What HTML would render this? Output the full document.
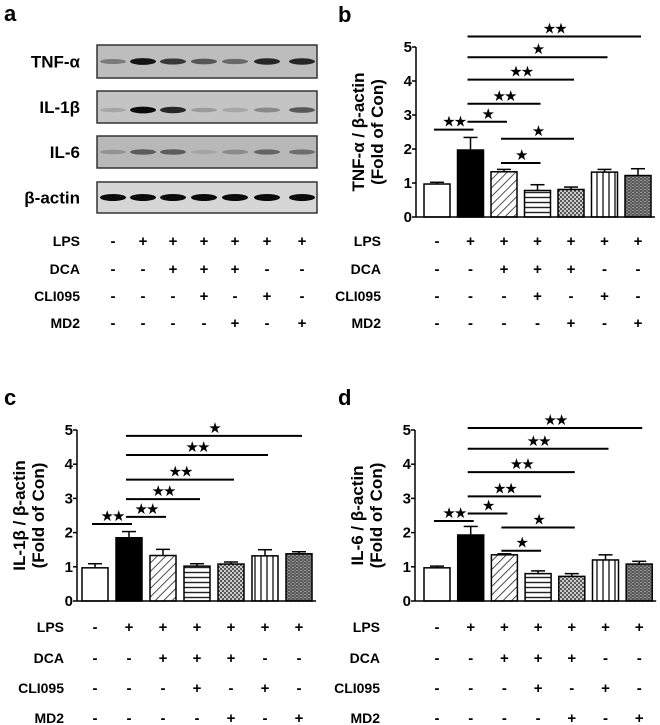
<!DOCTYPE html>
<html><head><meta charset="utf-8">
<style>
body{margin:0;background:#fff;}
svg{display:block;font-family:"Liberation Sans",Arial,sans-serif;font-weight:bold;}
</style></head>
<body>
<svg id="fig" width="660" height="725" viewBox="0 0 660 725" xmlns="http://www.w3.org/2000/svg">
<defs>
<pattern id="pDiag" width="6" height="6" patternUnits="userSpaceOnUse" patternTransform="rotate(45)"><rect width="6" height="6" fill="#fff"/><line x1="0" y1="0" x2="0" y2="6" stroke="#222" stroke-width="1.6"/></pattern>
<pattern id="pHor" width="6" height="5" patternUnits="userSpaceOnUse"><rect width="6" height="5" fill="#fff"/><line x1="0" y1="2.5" x2="6" y2="2.5" stroke="#222" stroke-width="1.4"/></pattern>
<pattern id="pDot" width="4" height="4" patternUnits="userSpaceOnUse"><rect width="4" height="4" fill="#ccc"/><circle cx="1" cy="1" r="1" fill="#333"/><circle cx="3" cy="3" r="1" fill="#333"/></pattern>
<pattern id="pVer" width="6" height="6" patternUnits="userSpaceOnUse"><rect width="6" height="6" fill="#fff"/><line x1="3" y1="0" x2="3" y2="6" stroke="#222" stroke-width="1.4"/></pattern>
<pattern id="pBrick" width="4" height="3" patternUnits="userSpaceOnUse"><rect width="4" height="3" fill="#555"/><rect x="0" y="0" width="2" height="1" fill="#999"/><rect x="2" y="1.5" width="2" height="1" fill="#999"/></pattern>
</defs>
<g id="root"></g>
</svg>
<script>
// ---- data ----
const groups = ["Con","LPS","LPS+DCA","LPS+DCA+CLI095","LPS+DCA+MD2","LPS+CLI095","LPS+MD2"];
const treatRows = ["LPS","DCA","CLI095","MD2"];
const treatLPS = ["-","+","+","+","+","+","+"];
const treatDCA = ["-","-","+","+","+","-","-"];
const treatCLI = ["-","-","-","+","-","+","-"];
const treatMD2 = ["-","-","-","-","+","-","+"];
const yTicks = [0,1,2,3,4,5];
const tnfMean = [0.97,1.97,1.33,0.78,0.81,1.32,1.22];
const tnfErr  = [0.05,0.37,0.07,0.17,0.07,0.08,0.20];
const il1Mean = [0.97,1.85,1.33,1.02,1.08,1.32,1.38];
const il1Err  = [0.12,0.18,0.18,0.07,0.06,0.18,0.06];
const il6Mean = [0.97,1.93,1.35,0.80,0.72,1.20,1.08];
const il6Err  = [0.05,0.25,0.03,0.08,0.08,0.15,0.08];
// significance brackets: [fromGroup, toGroup, level, stars]
const tnfSig = [[1,6,5.31,"★★"],[1,5,4.70,"★"],[1,4,4.04,"★★"],[1,3,3.33,"★★"],[1,2,2.80,"★"],[0,1,2.57,"★★"],[2,4,2.30,"★"],[2,3,1.59,"★"]];
const il1Sig = [[1,6,4.83,"★"],[1,5,4.27,"★★"],[1,4,3.55,"★★"],[1,3,2.98,"★★"],[1,2,2.46,"★★"],[0,1,2.25,"★★"]];
const il6Sig = [[1,6,5.06,"★★"],[1,5,4.45,"★★"],[1,4,3.77,"★★"],[1,3,3.06,"★★"],[1,2,2.56,"★"],[0,1,2.34,"★★"],[2,4,2.15,"★"],[2,3,1.47,"★"]];
const blotNames = ["TNF-α","IL-1β","IL-6","β-actin"];
const blotTNF = [0.35,0.9,0.7,0.55,0.45,0.8,0.8];
const blotIL1 = [0.15,0.95,0.8,0.2,0.15,0.3,0.55];
const blotIL6 = [0.2,0.5,0.5,0.1,0.25,0.45,0.4];
const blotACT = [0.95,0.95,0.95,0.95,0.95,0.95,0.95];

const NS="http://www.w3.org/2000/svg";
const root=document.getElementById('root');
function mk(tag,attrs,parent,text){const e=document.createElementNS(NS,tag);for(const k in attrs)e.setAttribute(k,attrs[k]);if(text!==undefined)e.textContent=text;(parent||root).appendChild(e);return e;}
const fills=["#fff","#000","url(#pDiag)","url(#pHor)","url(#pDot)","url(#pVer)","url(#pBrick)"];
const treatVals=[treatLPS,treatDCA,treatCLI,treatMD2];

function treatTable(g,labelRight,cols,rowsY,pfx){
  treatRows.forEach((r,ri)=>{
    const t=mk('text',{x:labelRight,y:rowsY[ri]+5,'text-anchor':'end','font-size':14},g,r);
    
    
    treatVals[ri].forEach((v,ci)=>{
      const s=mk('text',{x:cols[ci],y:rowsY[ri]+5,'text-anchor':'middle','font-size':15},g,v);
      
      
    });
  });
}

function chart(opt){
  const g=mk('g',{});
  
  
  const ax=opt.ax,y0=opt.y0,y5=opt.y5,x0=opt.x0,step=opt.step,bw=26;
  const ys=v=>y0-(y0-y5)*v/5;
  const xs=i=>x0+i*step;
  opt.mean.forEach((m,i)=>{
    const e=opt.err[i],cx=xs(i);
    const el=mk('line',{x1:cx,x2:cx,y1:ys(m),y2:ys(m+e),stroke:'#000','stroke-width':1.5},g);
    
    
    const ec=mk('line',{x1:cx-7,x2:cx+7,y1:ys(m+e),y2:ys(m+e),stroke:'#000','stroke-width':1.5},g);
    
    
    const b=mk('rect',{x:cx-bw/2,y:ys(m),width:bw,height:y0-ys(m),fill:fills[i],stroke:'#000','stroke-width':1.5},g);
    
    
  });
  const ya=mk('line',{x1:ax,x2:ax,y1:y5,y2:y0,stroke:'#000','stroke-width':1.5},g);
  
  
  const xa=mk('line',{x1:ax,x2:xs(6)+bw/2+4,y1:y0,y2:y0,stroke:'#000','stroke-width':1.5},g);
  
  
  yTicks.forEach(t=>{
    const tk=mk('line',{x1:ax-4,x2:ax,y1:ys(t),y2:ys(t),stroke:'#000','stroke-width':1.5},g);
    
    
    const tl=mk('text',{x:ax-4,y:ys(t)+5,'text-anchor':'end','font-size':15},g,String(t));
    
    
  });
  const yt=mk('text',{transform:`translate(${ax-52},${(y0+y5)/2}) rotate(-90)`,'text-anchor':'middle','font-size':17},g);
  
  
  mk('tspan',{x:0,dy:0},yt,opt.ytitle);
  mk('tspan',{x:0,dy:19},yt,'(Fold of Con)');
  opt.sig.forEach((s,k)=>{
    const y=ys(s[2]);
    const l=mk('line',{x1:xs(s[0])-3,x2:xs(s[1])+3,y1:y,y2:y,stroke:'#000','stroke-width':2},g);
    
    
    const st=mk('text',{x:(xs(s[0])+xs(s[1]))/2,y:y-3,'text-anchor':'middle','font-size':15,'font-family':'DejaVu Sans','letter-spacing':'-2'},g,s[3]);
    
    
  });
  const cols=[0,1,2,3,4,5,6].map(xs);
  treatTable(g,opt.labelRight,cols,opt.rowsY,opt.name);
  const pl=mk('text',{x:opt.letter[0],y:opt.letter[1],'font-size':22},g,opt.letterText);
  
  
}

(function(){
  const g=mk('g',{});
  
  
  const pl=mk('text',{x:4,y:21,'font-size':22},g,'a');
  
  
  const boxes=[[45,78],[91,123],[136,168],[182,213]];
  const lanes=[113,143,173,204,235,267,302];
  const dens=[blotTNF,blotIL1,blotIL6,blotACT];
  const bgs=['#bdbdbd','#c4c4c4','#b8b8b8','#d6d6d6'];
  boxes.forEach((bx,bi)=>{
    const r=mk('rect',{x:97,y:bx[0],width:220,height:bx[1]-bx[0],fill:bgs[bi],stroke:'#333','stroke-width':1.5},g);
    
    
    const lt=mk('text',{x:80,y:(bx[0]+bx[1])/2+6,'text-anchor':'end','font-size':17},g,blotNames[bi]);
    
    
    dens[bi].forEach((d,li)=>{
      const h=bi===3?7:4+d*3;
      const band=mk('ellipse',{cx:lanes[li],cy:(bx[0]+bx[1])/2+(bi===1?3:0),rx:13,ry:h/2,fill:'#000','fill-opacity':Math.min(1,d)},g);
      
      
    });
  });
  treatTable(g,80,lanes,[241,269,296,323],'panel-a');
})();

chart({name:'panel-b-tnf',ax:416,y0:217,y5:47,x0:437,step:33.5,mean:tnfMean,err:tnfErr,sig:tnfSig,ytitle:'TNF-α / β-actin',labelRight:381,rowsY:[241,269,296,323],letter:[338,22],letterText:'b'});
chart({name:'panel-c-il1b',ax:77,y0:601,y5:430,x0:95,step:34,mean:il1Mean,err:il1Err,sig:il1Sig,ytitle:'IL-1β / β-actin',labelRight:64,rowsY:[627,658,688,718],letter:[4,405],letterText:'c'});
chart({name:'panel-d-il6',ax:415,y0:601,y5:430,x0:437,step:33.7,mean:il6Mean,err:il6Err,sig:il6Sig,ytitle:'IL-6 / β-actin',labelRight:380,rowsY:[627,658,688,718],letter:[338,405],letterText:'d'});
</script>
</body></html>
